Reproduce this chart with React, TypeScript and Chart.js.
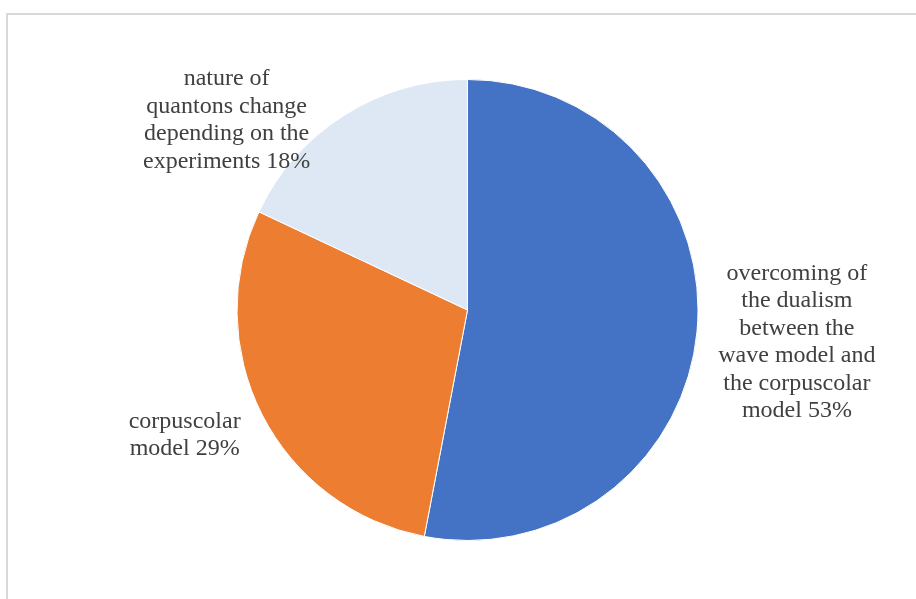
import React, { useEffect, useRef } from "react";
import { Chart, registerables } from "chart.js";

Chart.register(...registerables);

const categories: string[][] = [
  ["overcoming of", "the dualism", "between the", "wave model and", "the corpuscolar", "model 53%"],
  ["corpuscolar", "model 29%"],
  ["nature of", "quantons change", "depending on the", "experiments 18%"],
];
const values: number[] = [53, 29, 18];
const colors: string[] = ["#4472C4", "#ED7D31", "#DEE8F5"];

// label anchor (center x, first baseline) in units of the pie radius from the pie center
const labelAnchors: [number, number][] = [
  [1.429, -0.13],
  [-1.227, 0.511],
  [-1.045, -0.974],
];

const labelPlugin = {
  id: "pieLabels",
  afterDraw(chart: any) {
    const ctx = chart.ctx;
    const meta = chart.getDatasetMeta(0);
    ctx.save();
    ctx.font = '24px "Liberation Serif", "Times New Roman", serif';
    ctx.fillStyle = "#404040";
    ctx.textAlign = "center";
    ctx.textBaseline = "alphabetic";
    meta.data.forEach((arc: any, i: number) => {
      const { x, y, outerRadius } = arc.getProps(["x", "y", "outerRadius"], true);
      const [ax, ay] = labelAnchors[i];
      const cx = x + ax * outerRadius;
      const by = y + ay * outerRadius;
      categories[i].forEach((line, j) => {
        ctx.fillText(line, cx, by + j * 27.4);
      });
    });
    ctx.restore();
  },
};

export default function App() {
  const ref = useRef<HTMLCanvasElement | null>(null);
  useEffect(() => {
    if (!ref.current) return;
    const chart = new Chart(ref.current, {
      type: "pie",
      data: {
        labels: categories.map((c) => c.join(" ")),
        datasets: [
          {
            data: values,
            backgroundColor: colors,
            borderColor: "#FFFFFF",
            borderWidth: 1,
          },
        ],
      },
      options: {
        responsive: false,
        animation: false,
        layout: { padding: { left: 236.5, right: 217.5, top: 79, bottom: 58 } },
        plugins: {
          legend: { display: false },
          tooltip: { enabled: false },
        },
      },
      plugins: [labelPlugin],
    });
    return () => chart.destroy();
  }, []);
  return (
    <div style={{ position: "fixed", left: 0, top: 0, width: 916, height: 599, background: "#fff", overflow: "hidden" }}>
      <div
        style={{
          position: "absolute",
          left: 6,
          top: 13,
          width: 930,
          height: 620,
          border: "2px solid #D9D9D9",
          boxSizing: "border-box",
        }}
      />
      <canvas ref={ref} width={916} height={599} style={{ position: "absolute", left: 0, top: 0 }} />
    </div>
  );
}
